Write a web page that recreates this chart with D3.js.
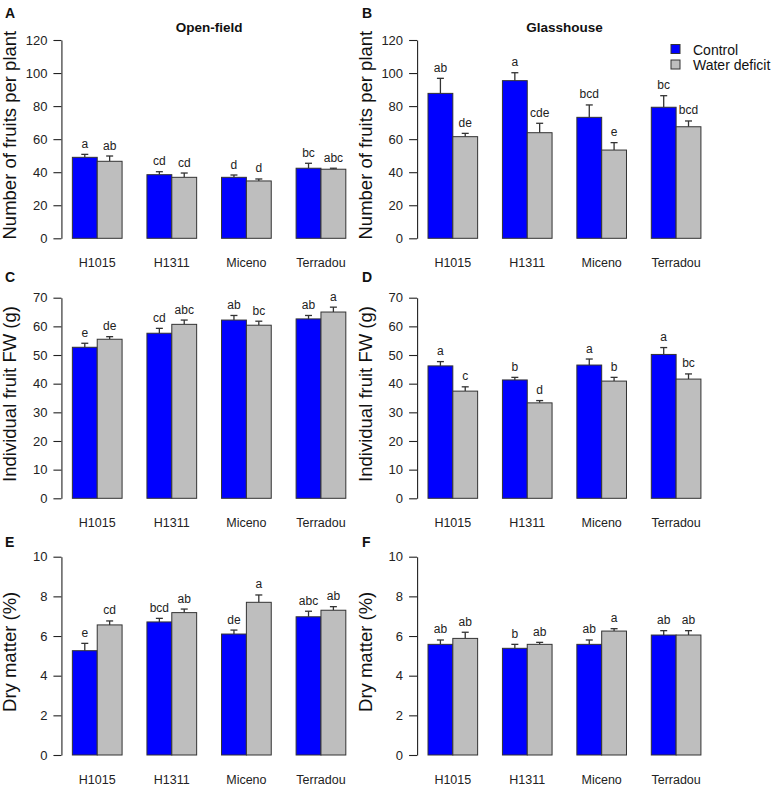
<!DOCTYPE html>
<html>
<head>
<meta charset="utf-8">
<script src="https://cdn.jsdelivr.net/npm/d3@7"></script>
<style>
  body { margin: 0; background: #fff; }
  svg { display: block; font-family: "Liberation Sans", Arial, sans-serif; }
</style>
</head>
<body>
<svg id="chart" width="773" height="786"></svg>
<script>
// ---- Data ----
const genotypes = ["H1015", "H1311", "Miceno", "Terradou"];
const series = ["Control", "Water deficit"];

// A: Number of fruits per plant, open-field
const fruitsOpenControl = [49.0, 38.5, 36.9, 42.4];
const fruitsOpenControlErr = [1.8, 1.8, 1.4, 3.0];
const fruitsOpenWater = [46.6, 36.9, 34.7, 41.8];
const fruitsOpenWaterErr = [3.2, 2.6, 1.2, 0.6];
const fruitsOpenControlLetters = ["a", "cd", "d", "bc"];
const fruitsOpenWaterLetters = ["ab", "cd", "d", "abc"];

// B: Number of fruits per plant, glasshouse
const fruitsGlassControl = [87.7, 95.4, 73.2, 79.3];
const fruitsGlassControlErr = [9.1, 4.8, 7.5, 7.0];
const fruitsGlassWater = [61.5, 63.9, 53.4, 67.5];
const fruitsGlassWaterErr = [2.0, 5.7, 4.5, 3.5];
const fruitsGlassControlLetters = ["ab", "a", "bcd", "bc"];
const fruitsGlassWaterLetters = ["de", "cde", "e", "bcd"];

// C: Individual fruit FW, open-field
const fwOpenControl = [52.7, 57.6, 62.2, 62.6];
const fwOpenControlErr = [1.4, 1.7, 1.6, 1.2];
const fwOpenWater = [55.5, 60.7, 60.4, 65.0];
const fwOpenWaterErr = [0.9, 1.5, 1.4, 1.7];
const fwOpenControlLetters = ["e", "cd", "ab", "ab"];
const fwOpenWaterLetters = ["de", "abc", "bc", "a"];

// D: Individual fruit FW, glasshouse
const fwGlassControl = [46.2, 41.3, 46.5, 50.2];
const fwGlassControlErr = [1.5, 0.9, 2.1, 2.4];
const fwGlassWater = [37.4, 33.3, 40.9, 41.6];
const fwGlassWaterErr = [1.5, 0.8, 1.3, 1.8];
const fwGlassControlLetters = ["a", "b", "a", "a"];
const fwGlassWaterLetters = ["c", "d", "b", "bc"];

// E: Dry matter, open-field
const dmOpenControl = [5.26, 6.71, 6.10, 6.97];
const dmOpenControlErr = [0.37, 0.18, 0.20, 0.28];
const dmOpenWater = [6.56, 7.18, 7.70, 7.30];
const dmOpenWaterErr = [0.20, 0.18, 0.37, 0.18];
const dmOpenControlLetters = ["e", "bcd", "de", "abc"];
const dmOpenWaterLetters = ["cd", "ab", "a", "ab"];

// F: Dry matter, glasshouse
const dmGlassControl = [5.58, 5.38, 5.58, 6.05];
const dmGlassControlErr = [0.22, 0.20, 0.22, 0.22];
const dmGlassWater = [5.88, 5.58, 6.25, 6.05];
const dmGlassWaterErr = [0.31, 0.10, 0.12, 0.22];
const dmGlassControlLetters = ["ab", "b", "ab", "ab"];
const dmGlassWaterLetters = ["ab", "ab", "a", "ab"];

const yTitles = ["Number of fruits per plant", "Individual fruit FW (g)", "Dry matter (%)"];
const yMax = [120, 70, 10];
const yStep = [20, 10, 2];
const columnTitles = ["Open-field", "Glasshouse"];
const panelLetters = ["A", "B", "C", "D", "E", "F"];
const colors = ["#0000FF", "#BEBEBE"];

// ---- Layout ----
const svg = d3.select("#chart");
const cols = [{x0: 47.5, w: 24.86, letterX: 5}, {x0: 403.2, w: 24.81, letterX: 362}];
const rows = [
  {y0: 238.3, yTop: 40, letterY: 18.3},
  {y0: 498.3, yTop: 297.7, letterY: 281.7},
  {y0: 755, yTop: 556.7, letterY: 546.7}
];

const panels = [
  {r: 0, c: 0, ctl: fruitsOpenControl, ctlE: fruitsOpenControlErr, wat: fruitsOpenWater, watE: fruitsOpenWaterErr, ctlL: fruitsOpenControlLetters, watL: fruitsOpenWaterLetters},
  {r: 0, c: 1, ctl: fruitsGlassControl, ctlE: fruitsGlassControlErr, wat: fruitsGlassWater, watE: fruitsGlassWaterErr, ctlL: fruitsGlassControlLetters, watL: fruitsGlassWaterLetters},
  {r: 1, c: 0, ctl: fwOpenControl, ctlE: fwOpenControlErr, wat: fwOpenWater, watE: fwOpenWaterErr, ctlL: fwOpenControlLetters, watL: fwOpenWaterLetters},
  {r: 1, c: 1, ctl: fwGlassControl, ctlE: fwGlassControlErr, wat: fwGlassWater, watE: fwGlassWaterErr, ctlL: fwGlassControlLetters, watL: fwGlassWaterLetters},
  {r: 2, c: 0, ctl: dmOpenControl, ctlE: dmOpenControlErr, wat: dmOpenWater, watE: dmOpenWaterErr, ctlL: dmOpenControlLetters, watL: dmOpenWaterLetters},
  {r: 2, c: 1, ctl: dmGlassControl, ctlE: dmGlassControlErr, wat: dmGlassWater, watE: dmGlassWaterErr, ctlL: dmGlassControlLetters, watL: dmGlassWaterLetters}
];

panels.forEach((p, i) => {
  const col = cols[p.c], row = rows[p.r];
  const g = svg.append("g");
  const x = d3.scaleBand().domain(genotypes)
    .range([col.x0, col.x0 + 13 * col.w])
    .paddingInner(1 / 3).paddingOuter(1 / 3);
  const xs = d3.scaleBand().domain(series).range([0, x.bandwidth()]).padding(0);
  const y = d3.scaleLinear().domain([0, yMax[p.r]]).range([row.y0, row.yTop]);
  const axisX = col.x0 + 0.56 * col.w;

  // y axis
  const ticks = d3.range(0, yMax[p.r] + 0.001, yStep[p.r]);
  const ax = g.append("g").attr("transform", `translate(${axisX},0)`)
    .call(d3.axisLeft(y).tickValues(ticks).tickSize(8).tickSizeOuter(0).tickPadding(6).tickFormat(d3.format("d")));
  ax.select(".domain").attr("stroke", "#222").attr("stroke-width", 1.1);
  ax.selectAll(".tick line").attr("stroke", "#222").attr("stroke-width", 1.1);
  ax.selectAll(".tick text").attr("fill", "#222").style("font-size", "13px")
    .style("font-family", "'Liberation Sans', Arial, sans-serif");

  // y title
  g.append("text")
    .attr("transform", `translate(${axisX - 45.5},${(row.y0 + row.yTop) / 2 - 4}) rotate(-90)`)
    .attr("text-anchor", "middle").style("font-size", "18.5px").attr("fill", "#111")
    .text(yTitles[p.r]);

  // data rows
  const data = [];
  genotypes.forEach((gn, k) => {
    data.push({g: gn, s: series[0], v: p.ctl[k], e: p.ctlE[k], l: p.ctlL[k]});
    data.push({g: gn, s: series[1], v: p.wat[k], e: p.watE[k], l: p.watL[k]});
  });

  // error bars (upper)
  const cap = 3.5;
  data.forEach(d => {
    const cx = x(d.g) + xs(d.s) + xs.bandwidth() / 2;
    g.append("line").attr("x1", cx).attr("x2", cx).attr("y1", y(d.v)).attr("y2", y(d.v + d.e))
      .attr("stroke", "#333").attr("stroke-width", 1.3);
    g.append("line").attr("x1", cx - cap).attr("x2", cx + cap).attr("y1", y(d.v + d.e)).attr("y2", y(d.v + d.e))
      .attr("stroke", "#333").attr("stroke-width", 1.3);
  });

  // bars
  g.selectAll("rect.bar").data(data).enter().append("rect")
    .attr("class", "bar")
    .attr("x", d => x(d.g) + xs(d.s))
    .attr("width", xs.bandwidth())
    .attr("y", d => y(d.v))
    .attr("height", d => y(0) - y(d.v))
    .attr("fill", d => colors[series.indexOf(d.s)])
    .attr("stroke", "#333").attr("stroke-width", 1);

  // letters
  g.selectAll("text.sig").data(data).enter().append("text")
    .attr("class", "sig")
    .attr("x", d => x(d.g) + xs(d.s) + xs.bandwidth() / 2)
    .attr("y", d => y(d.v + d.e) - 6.5)
    .attr("text-anchor", "middle").style("font-size", "12px").attr("fill", "#222")
    .text(d => d.l);

  // x labels
  g.selectAll("text.xl").data(genotypes).enter().append("text")
    .attr("class", "xl")
    .attr("x", d => x(d) + x.bandwidth() / 2)
    .attr("y", row.y0 + 28.5)
    .attr("text-anchor", "middle").style("font-size", "12.5px").attr("fill", "#222")
    .text(d => d);

  // panel letter
  svg.append("text").attr("x", col.letterX).attr("y", row.letterY)
    .style("font-size", "14px").style("font-weight", "bold").attr("fill", "#111")
    .text(panelLetters[i]);

  // column titles
  if (p.r === 0) {
    svg.append("text").attr("x", col.x0 + 6.5 * col.w).attr("y", 31.5)
      .attr("text-anchor", "middle").style("font-size", "13.5px").style("font-weight", "bold").attr("fill", "#111")
      .text(columnTitles[p.c]);
  }
});

// legend
const leg = svg.append("g");
series.forEach((s, k) => {
  leg.append("rect").attr("x", 671).attr("y", 44.5 + k * 15.5).attr("width", 9).attr("height", 9)
    .attr("fill", colors[k]).attr("stroke", "#333").attr("stroke-width", 1);
  leg.append("text").attr("x", 693).attr("y", 54.5 + k * 15.5)
    .style("font-size", "14px").attr("fill", "#111").text(s);
});
</script>
</body>
</html>
